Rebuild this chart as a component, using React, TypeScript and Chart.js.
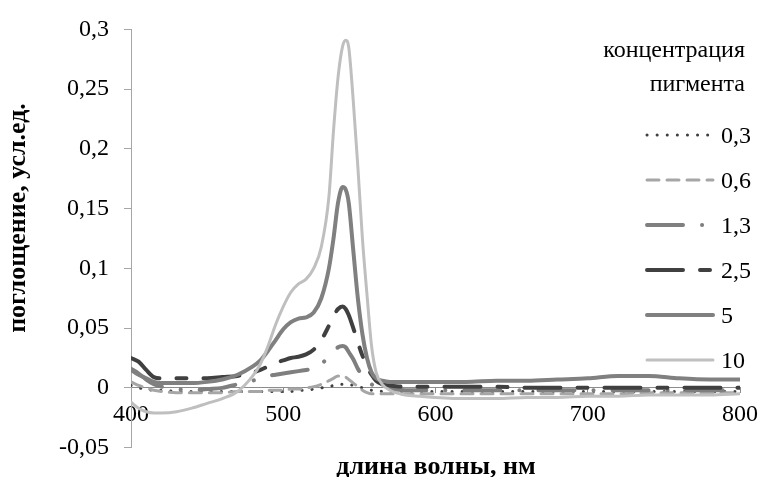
import React, { useEffect, useRef } from "react";
import { Chart, registerables } from "chart.js";

Chart.register(...registerables);

const FONT = "'Liberation Serif', 'Times New Roman', serif";

// wavelength, nm
const wavelengths = [
  400, 405, 410, 415, 420, 430, 440, 450, 460, 470, 480, 485, 490, 495, 500, 505,
  510, 515, 520, 525, 530, 533, 536, 539, 541, 543, 546, 549, 552, 555, 558, 561,
  565, 570, 580, 590, 600, 620, 640, 660, 680, 700, 720, 740, 760, 780, 800,
];

const seriesLabels = ["0,3", "0,6", "1,3", "2,5", "5", "10"];

const s03 = [
  0.002, 0.0, -0.001, -0.002, -0.002, -0.003, -0.003, -0.003, -0.003, -0.003, -0.003, -0.003, -0.003, -0.003, -0.003, -0.003,
  -0.002, -0.002, -0.001, 0.0, 0.001, 0.002, 0.003, 0.003, 0.003, 0.003, 0.002, 0.001, 0.0, -0.001, -0.002, -0.002,
  -0.003, -0.003, -0.003, -0.003, -0.003, -0.003, -0.003, -0.003, -0.003, -0.003, -0.003, -0.003, -0.003, -0.003, -0.003,
];
const s06 = [
  0.005, 0.002, 0.0, -0.002, -0.003, -0.004, -0.004, -0.004, -0.004, -0.003, -0.003, -0.003, -0.002, -0.002, -0.002, -0.001,
  -0.001, 0.0, 0.001, 0.003, 0.006, 0.008, 0.01, 0.01, 0.009, 0.007, 0.004, 0.001, -0.002, -0.004, -0.005, -0.005,
  -0.005, -0.005, -0.005, -0.005, -0.005, -0.005, -0.005, -0.005, -0.005, -0.005, -0.005, -0.004, -0.004, -0.004, -0.004,
];
const s13 = [
  0.016, 0.012, 0.007, 0.003, 0.001, -0.001, -0.002, -0.001, 0.0, 0.003, 0.006, 0.008, 0.01, 0.011, 0.012, 0.013,
  0.014, 0.015, 0.016, 0.02, 0.026, 0.03, 0.034, 0.035, 0.034, 0.03, 0.024, 0.016, 0.01, 0.006, 0.003, 0.001,
  0.0, -0.001, -0.002, -0.002, -0.002, -0.002, -0.002, -0.002, -0.002, -0.002, -0.002, -0.002, -0.002, -0.002, -0.002,
];
const s25 = [
  0.025, 0.022, 0.015, 0.009, 0.008, 0.008, 0.008, 0.008, 0.009, 0.01, 0.013, 0.015, 0.018, 0.021, 0.023, 0.025,
  0.026, 0.028, 0.032, 0.04, 0.052, 0.06, 0.066, 0.068, 0.066, 0.061, 0.05, 0.038, 0.027, 0.018, 0.011, 0.006,
  0.003, 0.002, 0.001, 0.001, 0.001, 0.001, 0.001, 0.0, 0.0, 0.0, 0.0, 0.0, 0.0, 0.0, 0.0,
];
const s5 = [
  0.015, 0.011, 0.008, 0.005, 0.004, 0.004, 0.004, 0.005, 0.007, 0.011, 0.018, 0.023, 0.031, 0.04, 0.049, 0.055,
  0.058, 0.059, 0.063, 0.075, 0.1, 0.125, 0.155, 0.168, 0.166, 0.155, 0.115, 0.075, 0.045, 0.025, 0.013, 0.008,
  0.006, 0.005, 0.005, 0.005, 0.005, 0.005, 0.006, 0.006, 0.007, 0.008, 0.01, 0.01, 0.008, 0.007, 0.007,
];
const s10 = [
  -0.012, -0.017, -0.02, -0.021, -0.021, -0.02, -0.017, -0.013, -0.009, -0.003, 0.01, 0.02, 0.035, 0.053, 0.068, 0.08,
  0.087, 0.091, 0.1, 0.118, 0.16, 0.215, 0.26, 0.286, 0.291, 0.285, 0.24, 0.185, 0.125, 0.078, 0.035, 0.013,
  0.003, -0.002, -0.006, -0.007, -0.008, -0.009, -0.009, -0.008, -0.008, -0.007, -0.007, -0.006, -0.006, -0.006, -0.005,
];

const seriesValues = [s03, s06, s13, s25, s5, s10];

const xTitle = "длина волны, нм";
const yTitle = "поглощение, усл.ед.";
const legendTitle = ["концентрация", "пигмента"];

const styles = [
  { color: "#404040", width: 3, dash: [0.1, 10], cap: "round" },
  { color: "#a6a6a6", width: 3, dash: [12, 8], cap: "round" },
  { color: "#7f7f7f", width: 4, dash: [36, 19, 0.1, 19], cap: "round" },
  { color: "#404040", width: 4, dash: [36, 17, 10, 17], cap: "round" },
  { color: "#808080", width: 4, dash: [], cap: "round" },
  { color: "#bfbfbf", width: 3, dash: [], cap: "round" },
];

const fmt = (v: number) => String(Number(v.toFixed(2))).replace(".", ",");

const overlayPlugin = {
  id: "overlay",
  afterDatasetsDraw(chart: any) {
    const ctx = chart.ctx as CanvasRenderingContext2D;
    ctx.save();
    ctx.fillStyle = "#000";
    ctx.font = `bold 26px ${FONT}`;
    ctx.textAlign = "center";
    ctx.textBaseline = "alphabetic";
    ctx.fillText(xTitle, 436, 474);
    ctx.save();
    ctx.translate(25, 218);
    ctx.rotate(-Math.PI / 2);
    ctx.fillText(yTitle, 0, 0);
    ctx.restore();

    ctx.font = `24px ${FONT}`;
    ctx.textAlign = "right";
    ctx.fillText(legendTitle[0], 745, 57);
    ctx.fillText(legendTitle[1], 745, 91);
    ctx.textAlign = "left";
    chart.data.datasets.forEach((ds: any, i: number) => {
      const y = 135 + i * 45;
      ctx.save();
      ctx.strokeStyle = ds.borderColor;
      ctx.lineWidth = ds.borderWidth;
      ctx.setLineDash(ds.borderDash || []);
      ctx.lineCap = ds.borderCapStyle || "butt";
      ctx.beginPath();
      ctx.moveTo(647, y);
      ctx.lineTo(713, y);
      ctx.stroke();
      ctx.restore();
      ctx.fillText(ds.label, 721, y + 8);
    });
    ctx.restore();
  },
};

export default function App() {
  const ref = useRef<HTMLCanvasElement | null>(null);
  useEffect(() => {
    document.body.style.margin = "0";
    if (!ref.current) return;
    const chart = new Chart(ref.current, {
      type: "line",
      data: {
        datasets: seriesValues.map((vals, i) => ({
          label: seriesLabels[i],
          data: vals.map((v, j) => ({ x: wavelengths[j], y: v })),
          borderColor: styles[i].color,
          borderWidth: styles[i].width,
          borderDash: styles[i].dash,
          borderCapStyle: styles[i].cap as CanvasLineCap,
          pointRadius: 0,
          fill: false,
          cubicInterpolationMode: "monotone",
          order: seriesValues.length - i,
        })),
      },
      options: {
        animation: false,
        responsive: false,
        layout: { padding: { top: 24, bottom: 28, right: 19, left: 0 } },
        plugins: { legend: { display: false }, tooltip: { enabled: false } },
        scales: {
          x: {
            type: "linear",
            min: 400,
            max: 800,
            position: { y: 0 } as any,
            ticks: {
              stepSize: 100,
              autoSkip: false,
              maxRotation: 0,
              padding: 7,
              color: "#000",
              font: { family: FONT, size: 24 },
            },
            grid: { drawOnChartArea: false, drawTicks: true, tickLength: 5, color: "#8c8c8c" },
            border: { color: "#8c8c8c", width: 1 },
          },
          y: {
            type: "linear",
            min: -0.05,
            max: 0.3,
            ticks: {
              stepSize: 0.05,
              padding: 15,
              color: "#000",
              font: { family: FONT, size: 24 },
              callback: (v: any) => fmt(Number(v)),
            },
            grid: { drawOnChartArea: false, drawTicks: true, tickLength: 7, color: "#a6a6a6" },
            border: { color: "#a6a6a6", width: 1 },
            afterFit: (s: any) => {
              s.width = 131;
            },
          },
        },
      },
      plugins: [overlayPlugin],
    });
    return () => chart.destroy();
  }, []);
  return (
    <div style={{ width: 765, height: 477 }}>
      <canvas ref={ref} width={765} height={477} style={{ display: "block" }} />
    </div>
  );
}
